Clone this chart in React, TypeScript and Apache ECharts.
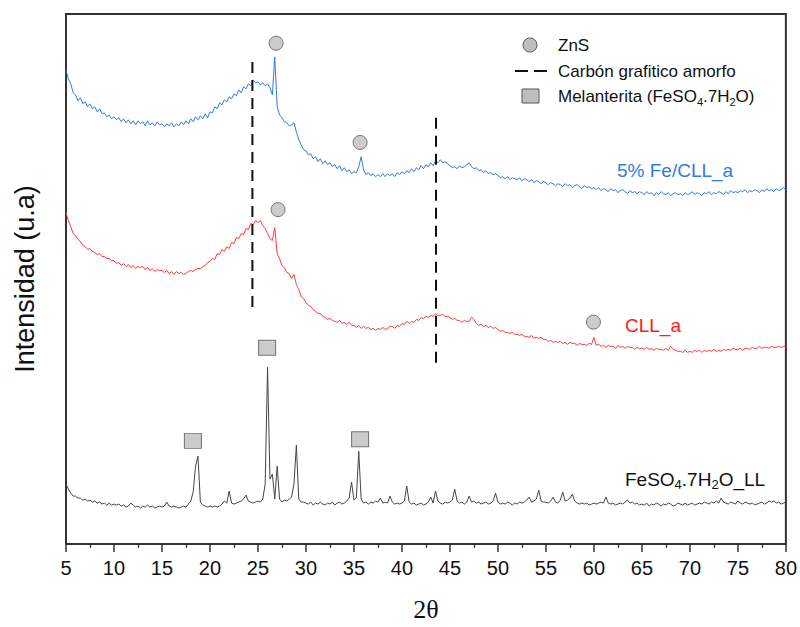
import React, { useEffect, useRef } from "react";
import * as echarts from "echarts";

// 2θ sampling grid of the digitised patterns (step 0.25°)
const twoTheta: number[] = Array.from({ length: 301 }, (_, i) => 5 + i * 0.25);

// Intensities (arbitrary units, stacked offsets as in the figure)
const feCllA: number[] = [
  475,466,461,452,450,444,447,441,443,438,441,436,438,433,436,431,432,428,430,426,
  428,425,427,423,426,422,425,421,424,420,424,421,423,419,424,420,422,419,423,420,
  421,418,421,419,422,418,421,419,423,420,424,421,426,423,428,425,429,426,431,427,
  433,432,438,436,442,440,445,443,448,446,451,449,455,452,458,456,461,459,465,462,
  463,460,462,459,461,457,450,488,438,430,427,423,422,419,420,422,413,405,400,395,
  394,390,391,386,388,383,386,381,384,380,382,378,380,376,379,374,377,373,375,371,
  373,372,378,388,375,370,372,369,371,368,370,368,371,368,371,369,371,368,372,370,
  373,371,374,372,376,373,377,375,379,376,380,378,382,379,384,382,385,382,383,381,
  379,377,378,376,379,377,378,380,382,378,376,377,374,375,372,374,371,372,370,371,
  369,367,368,366,368,365,367,366,365,367,364,366,365,363,365,362,364,363,361,363,
  362,360,362,361,359,361,360,358,361,359,360,357,359,360,358,356,359,357,358,356,
  357,355,357,354,356,355,353,356,354,355,352,354,355,353,351,354,352,353,351,353,
  352,350,353,351,352,349,352,350,353,351,350,352,349,351,352,350,351,349,352,350,
  351,353,350,352,351,349,352,351,353,350,352,351,353,352,350,353,351,354,352,353,
  352,354,353,355,352,354,353,355,354,352,355,353,356,354,355,353,356,354,355,357,
  355,
];

const cllA: number[] = [
  332,324,318,311,309,305,303,299,298,295,296,293,292,290,291,288,288,286,286,284,
  284,281,282,279,281,278,280,277,279,276,278,277,278,275,277,274,276,273,275,274,
  274,272,274,271,273,270,273,271,272,270,271,273,274,273,275,276,276,278,279,282,
  283,286,285,291,290,295,293,298,296,302,301,307,306,311,310,316,315,321,320,324,
  322,324,319,316,311,306,304,317,291,286,279,277,272,271,266,270,260,255,248,246,
  242,239,238,235,233,231,231,228,227,225,226,224,223,222,224,221,222,220,222,219,
  219,217,219,216,218,216,217,215,216,214,216,215,217,215,216,218,218,216,219,218,
  221,220,223,221,223,222,225,224,227,226,228,227,229,228,231,229,229,230,228,228,
  227,225,226,224,224,222,224,223,223,227,225,221,219,220,218,219,217,218,216,217,
  215,213,214,212,212,211,212,210,210,209,210,208,208,207,209,206,207,206,207,205,
  205,203,204,202,203,202,203,201,202,200,202,201,201,199,201,200,200,199,201,200,
  207,199,200,198,199,197,199,198,198,196,199,197,198,196,198,197,197,195,197,196,
  196,195,197,195,196,194,196,195,195,194,196,194,198,195,194,193,193,192,194,192,
  193,192,194,193,194,192,194,193,194,193,195,193,194,193,195,194,195,194,196,195,
  195,196,194,196,196,195,197,196,196,198,196,197,197,196,198,197,197,198,197,198,
  198,
];

const feso4: number[] = [
  60,55,51,48,48,46,46,44,45,43,44,42,43,41,42,40,41,39,41,39,
  40,39,40,38,39,37,38,41,39,37,38,36,38,37,39,37,38,36,37,38,
  37,38,42,38,37,38,37,36,37,38,37,40,43,52,78,88,42,39,38,37,
  38,37,38,37,38,40,43,41,53,41,40,41,42,43,45,49,43,42,41,42,
  43,42,45,60,177,65,70,45,78,45,42,44,43,45,47,60,99,45,42,42,
  41,40,42,39,41,40,42,40,39,41,40,42,39,41,42,40,41,43,46,62,
  44,46,93,45,41,42,40,42,41,43,42,46,41,42,41,48,42,40,41,40,
  41,43,58,42,40,41,39,40,41,39,40,42,47,41,53,43,41,40,42,41,
  42,44,55,43,41,42,40,42,48,42,43,41,42,40,41,42,40,41,43,51,
  42,40,41,40,42,41,39,41,40,42,41,42,44,47,42,43,45,54,43,42,
  42,41,43,47,42,41,44,52,43,44,46,50,43,41,40,41,40,41,39,40,
  41,40,41,42,41,47,41,40,41,39,40,41,40,42,44,41,42,40,41,39,
  40,39,41,38,40,39,41,40,38,40,39,41,40,38,39,41,40,39,41,39,
  40,41,39,40,41,40,42,41,40,42,41,43,41,46,42,41,40,42,41,40,
  43,41,40,42,41,40,41,39,40,41,42,40,41,43,42,43,41,42,40,41,
  42,
];

// Phase markers [2θ, intensity]
const znsMarkers: number[][] = [[26.89, 501.7], [35.64, 402.3], [27.09, 335], [59.95, 222.3]];
const melanteritaMarkers: number[][] = [[18.22, 103.3], [25.95, 196.7], [35.64, 105]];
// Amorphous graphitic carbon reference lines: [2θ, top, bottom]
const carbonLines: number[][] = [[24.42, 483, 235], [43.55, 427, 181]];

const FONT = "Liberation Sans";

export default function App() {
  const ref = useRef<HTMLDivElement>(null);
  useEffect(() => {
    document.body.style.margin = "0";
    if (!ref.current) return;
    const chart = echarts.init(ref.current, undefined, { renderer: "svg" });
    const pair = (ys: number[]) => twoTheta.map((x, i) => [x, ys[i]]);
    const lineSeries = (name: string, ys: number[], color: string) => ({
      name,
      type: "line",
      data: pair(ys),
      showSymbol: false,
      symbol: "none",
      lineStyle: { color, width: 1 },
      silent: true,
      z: 2,
    });
    const markerStyle = { color: "#bfbfbf", borderColor: "#595959", borderWidth: 1 };
    const option: any = {
      animation: false,
      backgroundColor: "#ffffff",
      grid: { left: 66, right: 12, top: 14, bottom: 82, show: true, borderColor: "#333", borderWidth: 2, backgroundColor: "transparent" },
      xAxis: {
        type: "value",
        min: 5,
        max: 80,
        interval: 5,
        name: "2θ",
        nameLocation: "middle",
        nameGap: 52,
        nameTextStyle: { fontFamily: "Liberation Serif", fontSize: 26, color: "#111" },
        axisLine: { show: true, onZero: false, lineStyle: { color: "#333", width: 2 } },
        axisTick: { show: true, inside: false, length: 8, lineStyle: { color: "#333", width: 1.5 } },
        minorTick: { show: true, splitNumber: 2, length: 4, lineStyle: { color: "#333", width: 1.2 } },
        axisLabel: { fontSize: 20, fontFamily: FONT, color: "#111", margin: 14 },
        splitLine: { show: false },
      },
      yAxis: {
        type: "value",
        min: 0,
        max: 531,
        name: "Intensidad (u.a)",
        nameLocation: "middle",
        nameRotate: 90,
        nameGap: 28,
        nameTextStyle: { fontFamily: FONT, fontSize: 27, color: "#111" },
        axisLine: { show: false },
        axisTick: { show: false },
        axisLabel: { show: false },
        splitLine: { show: false },
      },
      series: [
        lineSeries("FeSO4.7H2O_LL", feso4, "#454545"),
        lineSeries("CLL_a", cllA, "#ff3b3b"),
        lineSeries("5% Fe/CLL_a", feCllA, "#2f7be6"),
        ...carbonLines.map((c, i) => ({
          name: "Carbón grafitico amorfo " + (i + 1),
          type: "line",
          data: [[c[0], c[1]], [c[0], c[2]]],
          showSymbol: false,
          symbol: "none",
          lineStyle: { color: "#111", width: 2, type: [11, 7] },
          silent: true,
          z: 3,
        })),
        {
          name: "ZnS",
          type: "scatter",
          data: znsMarkers,
          symbol: "circle",
          symbolSize: 14,
          itemStyle: markerStyle,
          silent: true,
          z: 4,
        },
        {
          name: "Melanterita",
          type: "scatter",
          data: melanteritaMarkers,
          symbol: "rect",
          symbolSize: [17, 15],
          itemStyle: markerStyle,
          silent: true,
          z: 4,
        },
      ],
      graphic: [
        { type: "circle", shape: { cx: 530, cy: 45, r: 7 }, style: { fill: "#bfbfbf", stroke: "#595959", lineWidth: 1 } },
        { type: "text", x: 558, y: 45, style: { text: "ZnS", fontSize: 17, fontFamily: FONT, fill: "#111", verticalAlign: "middle", align: "left" } },
        { type: "line", shape: { x1: 515, y1: 71, x2: 547, y2: 71 }, style: { stroke: "#111", lineWidth: 2, lineDash: [13, 6] } },
        { type: "text", x: 558, y: 71, style: { text: "Carbón grafitico amorfo", fontSize: 17, fontFamily: FONT, fill: "#111", verticalAlign: "middle", align: "left" } },
        { type: "rect", shape: { x: 522, y: 89, width: 17, height: 14 }, style: { fill: "#bfbfbf", stroke: "#595959", lineWidth: 1 } },
        {
          type: "text",
          x: 558,
          y: 96,
          style: {
            text: "{m|Melanterita (FeSO}{s|4}{m|.7H}{s|2}{m|O)}",
            verticalAlign: "middle",
            align: "left",
            rich: {
              m: { fontSize: 17, fontFamily: FONT, fill: "#111", lineHeight: 22 },
              s: { fontSize: 11, fontFamily: FONT, fill: "#111", lineHeight: 11, verticalAlign: "bottom" },
            },
          },
        },
        { type: "text", x: 617, y: 170, style: { text: "5% Fe/CLL_a", fontSize: 19, fontFamily: FONT, fill: "#2f7be6", verticalAlign: "middle", align: "left" } },
        { type: "text", x: 625, y: 325, style: { text: "CLL_a", fontSize: 19, fontFamily: FONT, fill: "#ff1a1a", verticalAlign: "middle", align: "left" } },
        {
          type: "text",
          x: 625,
          y: 479,
          style: {
            text: "{m|FeSO}{s|4}{m|.7H}{s|2}{m|O_LL}",
            verticalAlign: "middle",
            align: "left",
            rich: {
              m: { fontSize: 19, fontFamily: FONT, fill: "#111", lineHeight: 24 },
              s: { fontSize: 13, fontFamily: FONT, fill: "#111", lineHeight: 13, verticalAlign: "bottom" },
            },
          },
        },
      ],
    };
    chart.setOption(option);
    return () => chart.dispose();
  }, []);
  return <div ref={ref} style={{ width: 800, height: 627 }} />;
}
